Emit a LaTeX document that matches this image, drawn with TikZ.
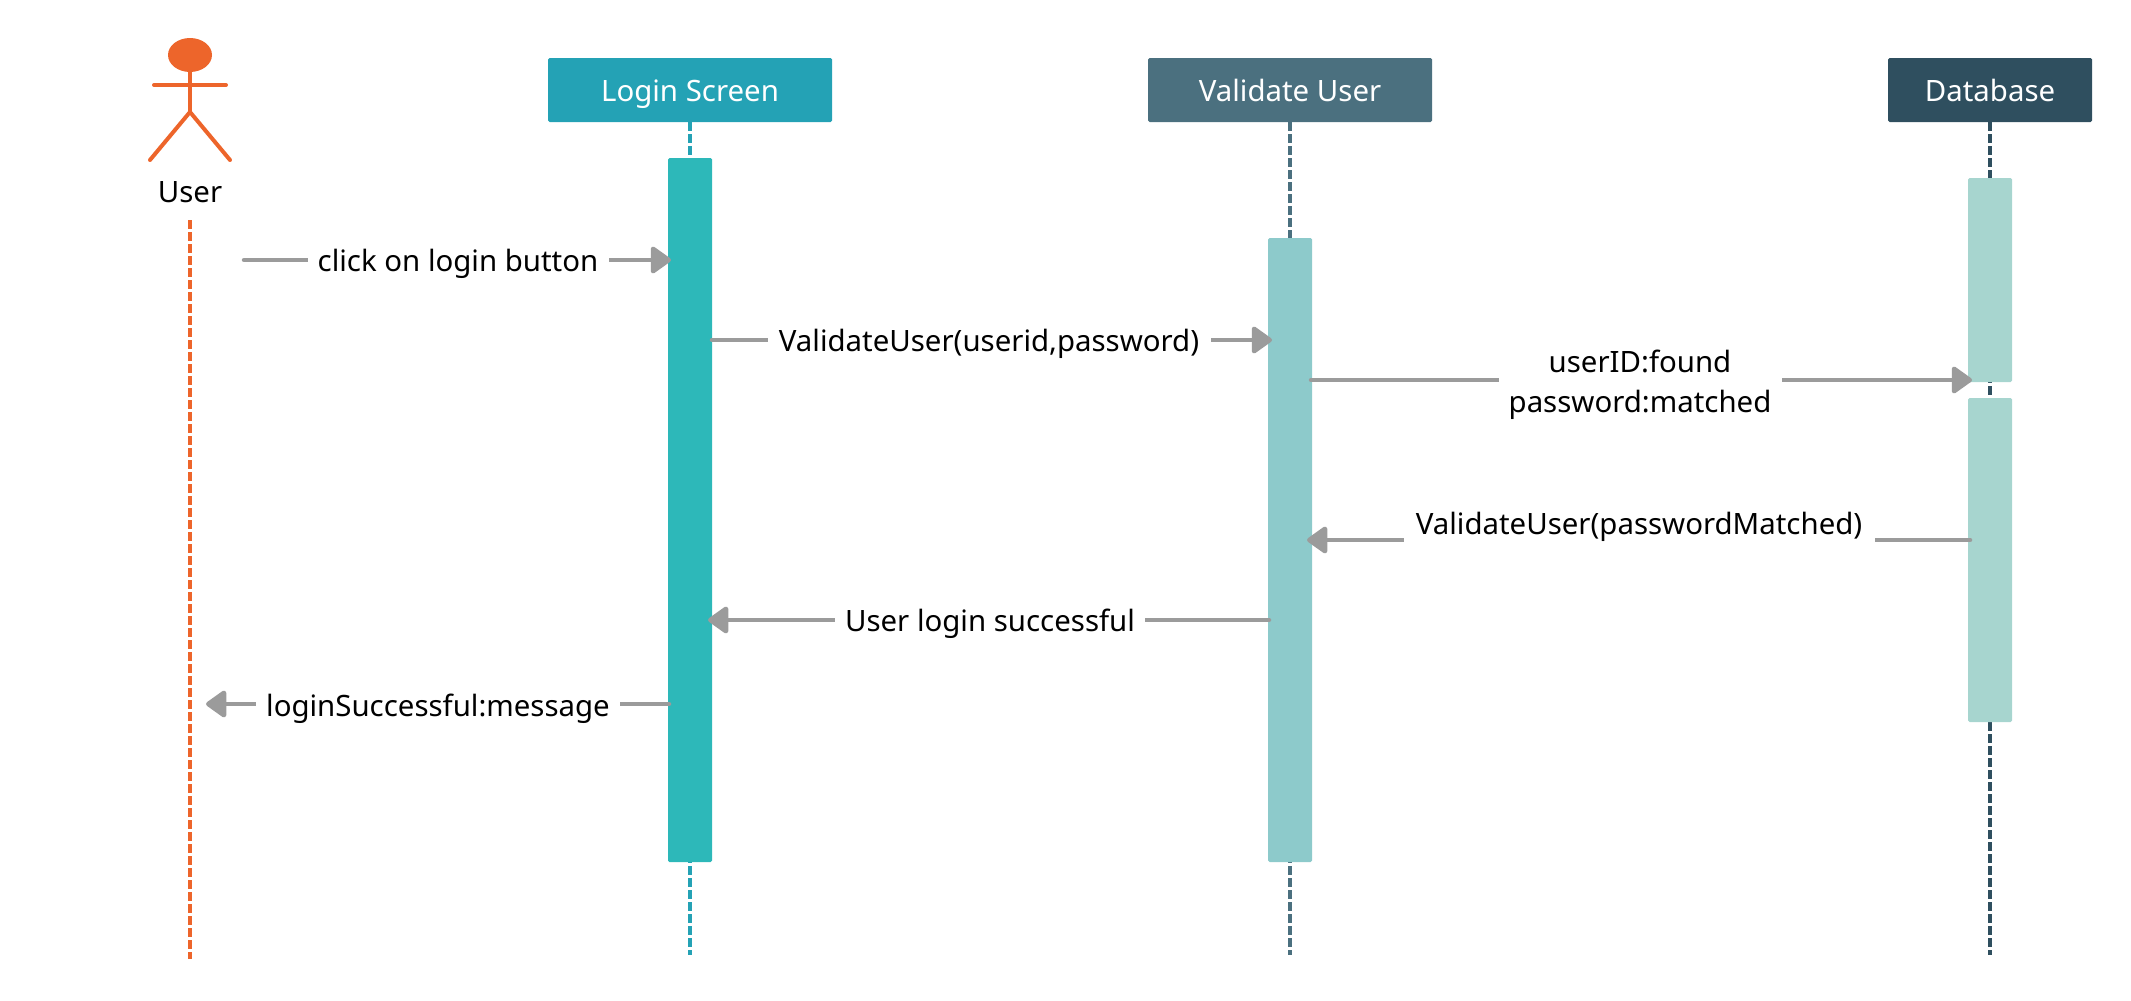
\documentclass[tikz,border=0pt]{standalone}
\usepackage{fontspec}
\setmainfont{Noto Sans}
\usetikzlibrary{arrows.meta,shapes.geometric}
\definecolor{cOrange}{HTML}{ED652B}
\definecolor{cLogin}{HTML}{24A2B5}
\definecolor{cValidate}{HTML}{4B707F}
\definecolor{cData}{HTML}{2F4F5F}
\definecolor{cBarA}{HTML}{2DB8B9}
\definecolor{cBarB}{HTML}{8DCACB}
\definecolor{cBarC}{HTML}{A7D5CF}
\definecolor{cMsg}{HTML}{9B9B9B}
\tikzset{
  x=1pt,y=-1pt,
  txt/.style={font=\fontsize{29.4}{40}\selectfont,align=center,text=black},
  headbox/.style={txt,text=white,rounded corners=1.5pt,minimum height=64pt,inner sep=0pt,text height=24pt,text depth=2pt},
  lifeline/.style={line width=3.5pt,dash pattern=on 9pt off 3pt},
  activation/.style={rounded corners=1.5pt,minimum width=44pt,inner sep=0pt},
  limb/.style={draw=cOrange,line width=4pt,line cap=round},
  msg/.style={draw=cMsg,line width=4.5pt,line cap=round,-{Triangle[length=22pt,width=30pt,round]}},
  lbl/.style={txt,fill=white,inner xsep=0pt,inner ysep=15pt},
}
\begin{document}
\begin{tikzpicture}
\useasboundingbox (0,0) rectangle (2131,1001);
% heads
\node[headbox,fill=cLogin,minimum width=284pt] (login) at (690,90) {Login Screen};
\node[headbox,fill=cValidate,minimum width=284pt] (validate) at (1290,90) {Validate User};
\node[headbox,fill=cData,minimum width=204pt] (data) at (1990,90) {Database};
% actor
\node[ellipse,fill=cOrange,minimum width=44pt,minimum height=34pt,inner sep=0pt] (head) at (190,55) {};
\coordinate (hip) at (190,112);
\coordinate (armL) at (154,85);
\coordinate (armR) at (226,85);
\coordinate (legL) at (150,160);
\coordinate (legR) at (230,160);
\draw[limb] (head.south) -- (hip);
\draw[limb] (armL) -- (armR);
\draw[limb,line join=round] (legL) -- (hip) -- (legR);
\node[txt] (user) at (190,192) {User};
% lifelines
\coordinate (userTop) at (190,220);
\coordinate (userEnd) at (190,959);
\coordinate (loginEnd) at (690,955);
\coordinate (validateEnd) at (1290,955);
\coordinate (dataEnd) at (1990,955);
\draw[lifeline,draw=cOrange] (userTop) -- (userEnd);
\draw[lifeline,draw=cLogin] (login.south) -- (loginEnd);
\draw[lifeline,draw=cValidate] (validate.south) -- (validateEnd);
\draw[lifeline,draw=cData] (data.south) -- (dataEnd);
% activations
\node[activation,fill=cBarA,minimum height=704pt] (barLogin) at (690,510) {};
\node[activation,fill=cBarB,minimum height=624pt] (barValidate) at (1290,550) {};
\node[activation,fill=cBarC,minimum height=204pt] (barDataA) at (1990,280) {};
\node[activation,fill=cBarC,minimum height=324pt] (barDataB) at (1990,560) {};
% message ends
\coordinate (m1a) at (244,260);  \coordinate (m1b) at (671,260);
\coordinate (m2a) at (712,340);  \coordinate (m2b) at (1272,340);
\coordinate (m3a) at (1311,380); \coordinate (m3b) at (1972,380);
\coordinate (m4a) at (1970,540); \coordinate (m4b) at (1307,540);
\coordinate (m5a) at (1269,620); \coordinate (m5b) at (708,620);
\coordinate (m6a) at (669,704);  \coordinate (m6b) at (206,704);
% messages
\draw[msg] (m1a) -- (m1b);
\draw[msg] (m2a) -- (m2b);
\draw[msg] (m3a) -- (m3b);
\draw[msg] (m4a) -- (m4b);
\draw[msg] (m5a) -- (m5b);
\draw[msg] (m6a) -- (m6b);
% labels
\node[lbl,minimum width=301pt] (l1) at (458,264) {click on login button};
\node[lbl,minimum width=443pt] (l2) at (989,344) {ValidateUser(userid,password)};
\node[lbl,minimum width=283pt] (l3) at (1640,385) {userID:found\\password:matched};
\node[lbl,minimum width=471pt] (l4) at (1639,527) {ValidateUser(passwordMatched)};
\node[lbl,minimum width=310pt] (l5) at (990,624) {User login successful};
\node[lbl,minimum width=364pt] (l6) at (438,709) {loginSuccessful:message};
\end{tikzpicture}
\end{document}
